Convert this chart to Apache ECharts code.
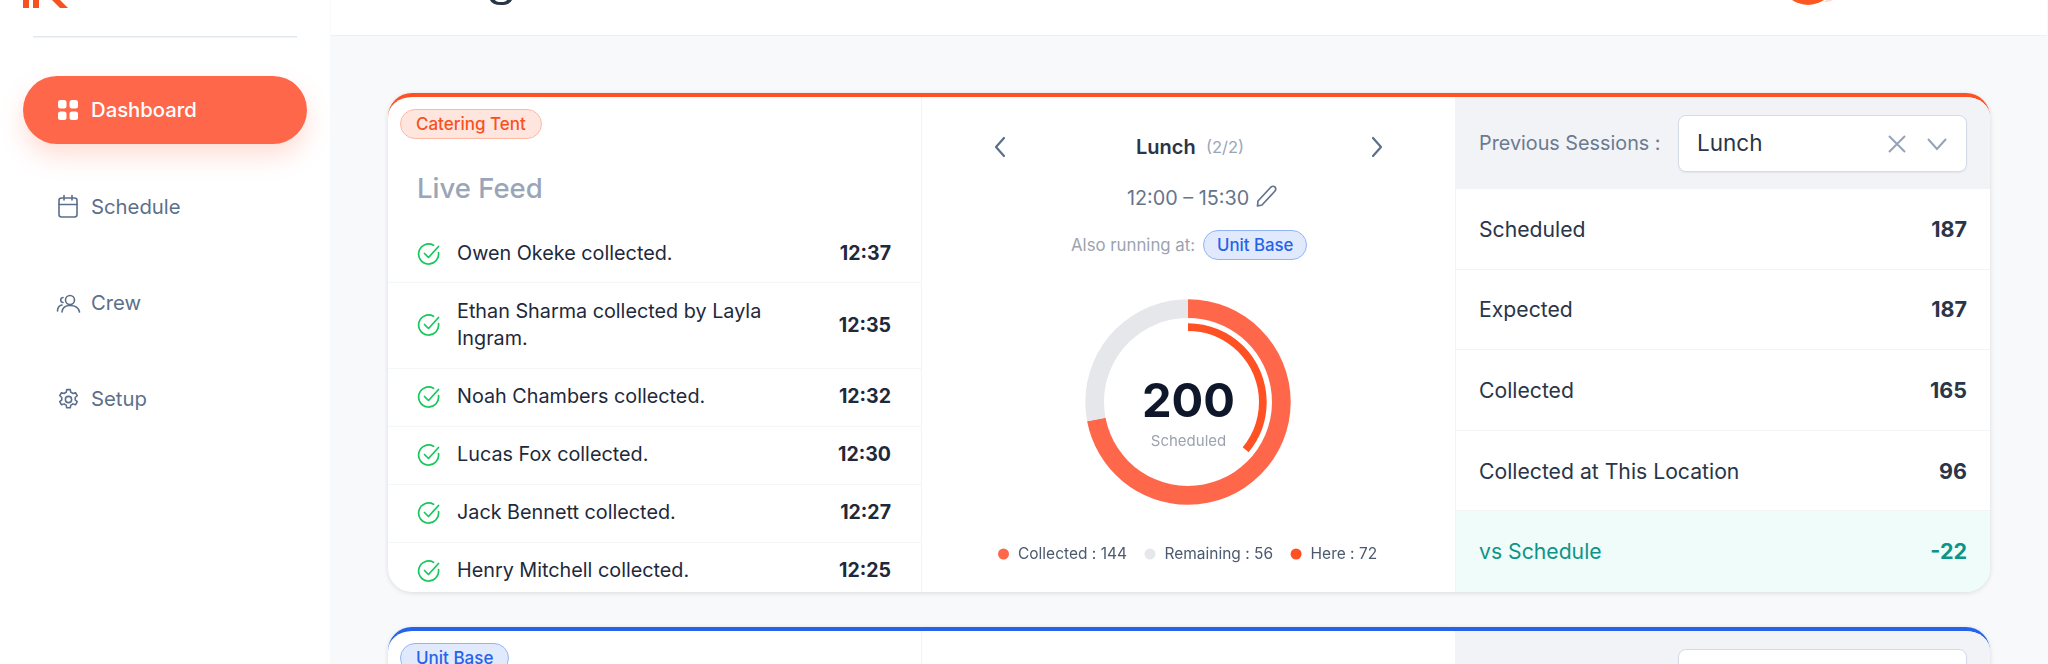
<!DOCTYPE html>
<html>
<head>
<meta charset="utf-8">
<style type="text/css">
html, body { margin: 0; padding: 0; }
body { width: 2048px; height: 664px; overflow: hidden; position: relative; background: #f8f9fb; font-family: Inter, sans-serif; color: #1e293b; }
.abs { position: absolute; }
#side { left: 0; top: 0; width: 330px; height: 664px; background: #fff; }
#top { left: 331px; top: 0; width: 1716px; height: 35px; background: #fff; border-bottom: 1px solid #eef0f3; overflow: hidden; }
.nav { position: absolute; left: 91px; font-size: 20.3px; line-height: 28px; color: #5b6f8b; }
#pill { left: 23px; top: 76px; width: 284px; height: 68px; border-radius: 34px; background: #ff674b; box-shadow: 0 12px 24px rgba(255, 103, 75, .22); }
.card { position: absolute; left: 388px; width: 1602px; height: 495px; background: #fff; border-radius: 24px; border-top: 4px solid; box-shadow: 0 1px 5px rgba(15, 23, 42, .13); overflow: hidden; }
.mid { position: absolute; left: 533px; top: 0; width: 534px; height: 100%; border-left: 1px solid #f1f3f6; }
.right { position: absolute; left: 1067px; top: 0; width: 535px; height: 100%; border-left: 1px solid #f1f3f6; }
.head { height: 92px; background: #f1f3f6; position: relative; }
.tag { position: absolute; left: 12px; top: 12px; height: 28px; line-height: 28px; padding: 0 15px; border-radius: 15px; font-size: 17px; font-weight: 500; border: 1px solid; }
.sel { position: absolute; left: 222px; top: 18px; width: 287px; height: 55px; background: #fff; border: 1px solid #d3dbe7; border-radius: 8px; box-shadow: 0 1px 2px rgba(15, 23, 42, .06); }
.feedrow { display: flex; align-items: center; padding: 14.75px 30px 14.75px 29px; border-bottom: 1px solid #f5f6f8; font-size: 19.8px; line-height: 27.5px; width: 474px; }
.feedrow svg { flex: none; margin-right: 16px; }
.feedrow .who { flex: 1; padding-right: 40px; }
.feedrow .at { font-weight: 700; font-size: 19.5px; }
.stat { height: 79.6px; border-bottom: 1px solid #f3f4f6; display: flex; justify-content: space-between; align-items: center; padding: 0 24px 0 23px; font-size: 21.2px; color: #293548; }
.stat b { font-weight: 700; font-size: 21.5px; color: #293548; }
.stat.last { background: #effcfa; color: #0d9488; border-bottom: 0; height: 80px; padding-bottom: 3px; }
.stat.last b { color: #0d9488; }
</style>
</head>
<body>
<div class="abs" id="side"></div>
<div class="abs" id="top"></div>
<svg class="abs" style="left:0;top:0" width="2048" height="40">
    <g fill="#f9501f">
        <rect x="23" y="0" width="6" height="8"/>
        <rect x="33" y="0" width="6" height="8"/>
        <path d="M50 -2 L58 -2 L68 8 L60 8 Z"/>
    </g>
    <circle cx="1808" cy="-23" r="28" fill="#ff5722"/>
    <path d="M1826 0 L1833 0 Q1830 2 1824 2 Z" fill="#ffd9cd"/>
    <path d="M490 0 Q492 5 501 5 Q510 5 512 0 L507 0 Q506 2 501 2 Q496 2 495 0 Z" fill="#293548"/>
    <rect x="33" y="36" width="264" height="1.5" fill="#e2e8f0"/>
</svg>
<div class="abs" id="pill"></div>
<svg class="abs" style="left:56px;top:98px" width="24" height="24"><g fill="#fff">
    <rect x="2" y="2" width="8.5" height="8.5" rx="2.5"/><rect x="13.5" y="2" width="8.5" height="8.5" rx="2.5"/>
    <rect x="2" y="13.5" width="8.5" height="8.5" rx="2.5"/><rect x="13.5" y="13.5" width="8.5" height="8.5" rx="2.5"/>
</g></svg>
<div class="nav" style="top:96px;color:#fff;font-weight:500">Dashboard</div>
<svg class="abs" style="left:56px;top:194px" width="24" height="26" fill="none" stroke="#5b6f8b" stroke-width="1.6" stroke-linecap="round">
    <rect x="3" y="4" width="18" height="19" rx="2.5"/><path d="M3 10.5 H21 M8 1.5 V6 M16 1.5 V6"/>
</svg>
<div class="nav" style="top:193px">Schedule</div>
<svg class="abs" style="left:56px;top:293px" width="25" height="22" fill="none" stroke="#5b6f8b" stroke-width="1.6" stroke-linecap="round">
    <circle cx="14" cy="7" r="4.5"/><path d="M6 19 C6.5 14 10 12.5 14 12.5 C18 12.5 22.5 14 23.5 19"/><path d="M7 4.5 C4 5 4 9 7 9.5 M1.5 18 C1.5 14.5 3.5 12.5 6 12"/>
</svg>
<div class="nav" style="top:289px">Crew</div>
<svg class="abs" style="left:56px;top:387px" width="25" height="25" viewBox="0 0 24 24" fill="none" stroke="#5b6f8b" stroke-width="1.5" stroke-linejoin="round">
    <circle cx="12" cy="12" r="3"/>
    <path d="M10.3 2.5 h3.4 l.5 2.6 a7.5 7.5 0 0 1 2 1.2 l2.5 -.9 1.7 3 -2 1.7 a7.5 7.5 0 0 1 0 2.3 l2 1.7 -1.7 3 -2.5 -.9 a7.5 7.5 0 0 1 -2 1.2 l-.5 2.6 h-3.4 l-.5 -2.6 a7.5 7.5 0 0 1 -2 -1.2 l-2.5 .9 -1.7 -3 2 -1.7 a7.5 7.5 0 0 1 0 -2.3 l-2 -1.7 1.7 -3 2.5 .9 a7.5 7.5 0 0 1 2 -1.2 z"/>
</svg>
<div class="nav" style="top:385px">Setup</div>

<div class="card" style="top:93px;border-color:#ff5124">
    <div class="tag" style="color:#f9501f;background:#fee6df;border-color:#ffb8a3">Catering Tent</div>
    <div class="abs" style="left:29px;top:73px;font-size:27.5px;line-height:36px;color:#9aa5b8;font-weight:500">Live Feed</div>
    <div class="abs" id="feed" style="left:0;top:128px"></div>
    <div class="mid">
        <svg class="abs" style="left:68px;top:38px" width="22" height="24" fill="none" stroke="#5b6f8b" stroke-width="2.2" stroke-linecap="round" stroke-linejoin="round"><path d="M14 3 L6 12 L14 21"/></svg>
        <svg class="abs" style="left:443px;top:38px" width="22" height="24" fill="none" stroke="#5b6f8b" stroke-width="2.2" stroke-linecap="round" stroke-linejoin="round"><path d="M8 3 L16 12 L8 21"/></svg>
        <div class="abs" style="left:214px;top:36px;font-size:20px;line-height:28px;font-weight:600;color:#293548">Lunch</div>
        <div class="abs" style="left:284px;top:36px;font-size:16.5px;line-height:28px;color:#9aa5b8">(2/2)</div>
        <div class="abs" style="left:205px;top:87px;font-size:19.8px;line-height:28px;color:#64748b">12:00 – 15:30</div>
        <svg class="abs" style="left:332px;top:86px" width="24" height="26" fill="none" stroke="#64748b" stroke-width="1.7" stroke-linejoin="round"><path d="M4 18 L17 4 Q19 2.5 21 4 Q22.5 6 21 8 L8 22 L3.5 23 Z"/></svg>
        <div class="abs" style="left:149px;top:134px;font-size:16.8px;line-height:28px;color:#9ca3af">Also running at:</div>
        <div class="tag" style="left:281px;top:133px;padding:0 13px;font-size:16.8px;color:#2563eb;background:#e1e9fd;border-color:#93b3f7">Unit Base</div>
        <div id="chart" class="abs" style="left:0;top:173px;width:533px;height:322px"></div>
    </div>
    <div class="right">
        <div class="head">
            <div class="abs" style="left:23px;top:32px;font-size:19.8px;line-height:28px;color:#6b7a90">Previous Sessions :</div>
            <div class="sel">
                <div class="abs" style="left:18px;top:13px;font-size:22.5px;line-height:28px;color:#293548">Lunch</div>
                <svg class="abs" style="left:207px;top:17px" width="22" height="22" fill="none" stroke="#94a3b8" stroke-width="2"><path d="M3 3 L19 19 M19 3 L3 19"/></svg>
                <svg class="abs" style="left:247px;top:17px" width="22" height="22" fill="none" stroke="#94a3b8" stroke-width="2"><path d="M2 6 L11 16 L20 6"/></svg>
            </div>
        </div>
        <div id="stats"></div>
    </div>
</div>

<div class="card" style="top:627px;border-color:#2563eb">
    <div class="tag" style="color:#2563eb;background:#e1e9fd;border-color:#93b3f7">Unit Base</div>
    <div class="mid"></div>
    <div class="right"><div class="head"><div class="sel"></div></div></div>
</div>

<script src="https://cdn.jsdelivr.net/npm/echarts@6/dist/echarts.min.js"></script>
<script>
let feedNames = ['Owen Okeke collected.', 'Ethan Sharma collected by Layla Ingram.', 'Noah Chambers collected.', 'Lucas Fox collected.', 'Jack Bennett collected.', 'Henry Mitchell collected.'];
let feedTimes = ['12:37', '12:35', '12:32', '12:30', '12:27', '12:25'];
let statLabels = ['Scheduled', 'Expected', 'Collected', 'Collected at This Location', 'vs Schedule'];
let statValues = ['187', '187', '165', '96', '-22'];

let sliceNames = ['Collected', 'Remaining'];
let sliceValues = [144, 56];
let hereName = 'Here';
let hereValue = 72;
let totalScheduled = 200;

let tick = '<svg width="24" height="24" fill="none" stroke="#16c75c" stroke-width="1.7" stroke-linecap="round" stroke-linejoin="round"><path d="M21.5 10.5 A10 10 0 1 1 16.5 3.3"/><path d="M7.5 11.5 L11.5 15.5 L21.5 4.5"/></svg>';
document.getElementById('feed').innerHTML = feedNames.map((n, i) =>
    '<div class="feedrow">' + tick + '<div class="who">' + n + '</div><div class="at">' + feedTimes[i] + '</div></div>'
).join('');
document.getElementById('stats').innerHTML = statLabels.map((l, i) =>
    '<div class="stat' + (i === statLabels.length - 1 ? ' last' : '') + '"><span>' + l + '</span><b>' + statValues[i] + '</b></div>'
).join('');

let colors = {Collected: '#ff674b', Remaining: '#e5e7eb', Here: '#ff5124'};
let legendText = {};
sliceNames.forEach((n, i) => { legendText[n] = n + ' : ' + sliceValues[i]; });
legendText[hereName] = hereName + ' : ' + hereValue;

let chart = echarts.init(document.getElementById('chart'));
chart.setOption({
    animation: false,
    textStyle: {fontFamily: 'Inter'},
    legend: {
        data: sliceNames.concat(hereName),
        left: 71,
        top: 271,
        icon: 'circle',
        itemWidth: 11,
        itemHeight: 11,
        itemGap: 17.5,
        selectedMode: false,
        formatter: name => legendText[name],
        textStyle: {fontFamily: 'Inter', fontSize: 15.5, color: '#4b5a6e', padding: [0, 0, 0, 4]}
    },
    graphic: [
        {type: 'text', left: 'center', top: 109, style: {text: String(totalScheduled), fontFamily: 'Inter', fontSize: 47, fontWeight: 700, fill: '#0f172a'}},
        {type: 'text', left: 'center', top: 164, style: {text: 'Scheduled', fontFamily: 'Inter', fontSize: 15, fill: '#9ca3af'}}
    ],
    series: [
        {
            type: 'pie',
            center: [266, 132],
            radius: [84, 102.7],
            startAngle: 90,
            silent: true,
            label: {show: false},
            data: sliceNames.map((n, i) => ({name: n, value: sliceValues[i], itemStyle: {color: colors[n]}}))
        },
        {
            type: 'pie',
            center: [266, 132],
            radius: [71, 78.7],
            startAngle: 90,
            silent: true,
            label: {show: false},
            data: [
                {name: hereName, value: hereValue, itemStyle: {color: colors.Here}},
                {name: 'rest', value: totalScheduled - hereValue, itemStyle: {color: 'transparent'}}
            ]
        }
    ]
});
</script>
</body>
</html>
